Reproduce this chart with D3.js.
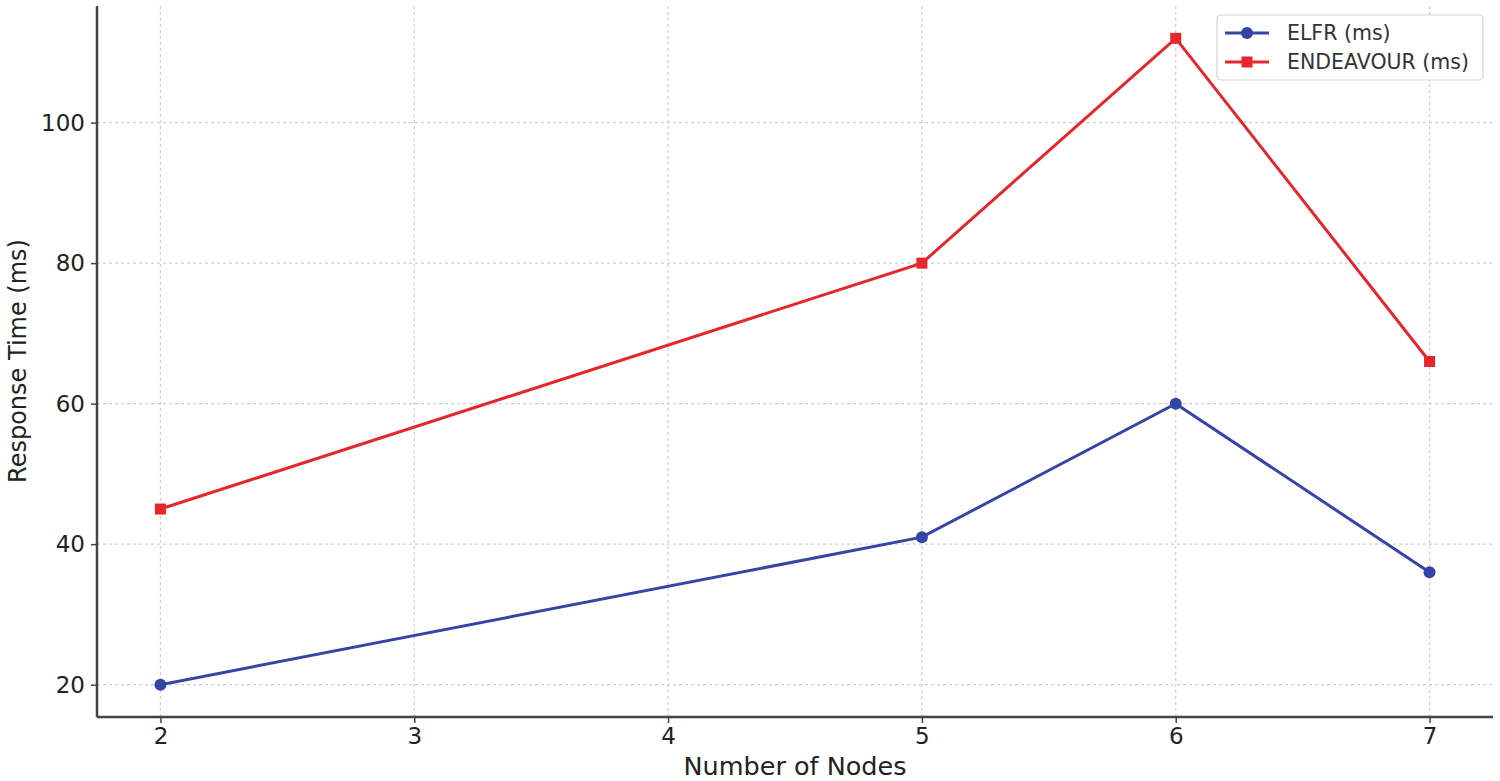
<!DOCTYPE html>
<html><head><meta charset="utf-8">
<script src="https://cdn.jsdelivr.net/npm/d3@7"></script>
<style>body{margin:0;background:#fff;} svg{display:block;} text{font-family:"DejaVu Sans",sans-serif;}</style>
</head><body>
<svg id="c" width="1500" height="781"></svg>
<script>
const nodes = [2, 5, 6, 7];
const elfr = [20, 41, 60, 36];
const endeavour = [45, 80, 112, 66];
const xTicks = [2, 3, 4, 5, 6, 7];
const yTicks = [20, 40, 60, 80, 100];
const seriesNames = ["ELFR (ms)", "ENDEAVOUR (ms)"];
const colors = ["#3545a6", "#e5262b"];

const svg = d3.select("#c");
const L = 97, R = 1493, T = 6, B = 717;
const x = d3.scaleLinear().domain([1.75, 7.25]).range([L, R]);
const y = d3.scaleLinear().domain([15.4, 116.6]).range([B, T]);

// grid
const g = svg.append("g");
g.selectAll(".gx").data(xTicks).join("line")
  .attr("x1", d => x(d)).attr("x2", d => x(d)).attr("y1", T).attr("y2", B)
  .attr("stroke", "#cfcfcf").attr("stroke-width", 1.2).attr("stroke-dasharray", "3,3");
g.selectAll(".gy").data(yTicks).join("line")
  .attr("x1", L).attr("x2", R).attr("y1", d => y(d)).attr("y2", d => y(d))
  .attr("stroke", "#cfcfcf").attr("stroke-width", 1.2).attr("stroke-dasharray", "3,3");

// axes
const xa = svg.append("g").attr("transform", `translate(0,${B})`)
  .call(d3.axisBottom(x).tickValues(xTicks).tickFormat(d3.format("d")).tickSize(6).tickPadding(5));
const ya = svg.append("g").attr("transform", `translate(${L},0)`)
  .call(d3.axisLeft(y).tickValues(yTicks).tickFormat(d3.format("d")).tickSize(6).tickPadding(6));
[xa, ya].forEach(a => {
  a.select(".domain").attr("stroke", "#444").attr("stroke-width", 2.5);
  a.selectAll(".tick line").attr("stroke", "#444").attr("stroke-width", 1.5);
  a.selectAll(".tick text").attr("font-size", 23).attr("fill", "#222").style("font-family", "DejaVu Sans");
});
xa.select(".domain").attr("d", `M${L},0H${R}`);
ya.select(".domain").attr("d", `M0,${T}V${B}`);

// series
const data = [elfr, endeavour];
const line = d3.line().x((d, i) => x(nodes[i])).y(d => y(d));
data.forEach((s, k) => {
  svg.append("path").datum(s).attr("d", line).attr("fill", "none")
    .attr("stroke", colors[k]).attr("stroke-width", 3);
  if (k === 0) {
    svg.selectAll(".m0").data(s).join("circle")
      .attr("cx", (d, i) => x(nodes[i])).attr("cy", d => y(d)).attr("r", 6).attr("fill", colors[k]);
  } else {
    svg.selectAll(".m1").data(s).join("rect")
      .attr("x", (d, i) => x(nodes[i]) - 5.5).attr("y", d => y(d) - 5.5)
      .attr("width", 11).attr("height", 11).attr("fill", colors[k]);
  }
});

// axis labels
svg.append("text").attr("x", 795).attr("y", 775).attr("text-anchor", "middle")
  .attr("font-size", 25.5).attr("fill", "#222").text("Number of Nodes");
svg.append("text").attr("transform", "translate(26,361) rotate(-90)").attr("text-anchor", "middle")
  .attr("font-size", 24).attr("fill", "#222").text("Response Time (ms)");

// legend
const lg = svg.append("g").attr("transform", "translate(1217,15)");
lg.append("rect").attr("width", 266).attr("height", 65).attr("rx", 4)
  .attr("fill", "#fff").attr("stroke", "#d5d5d5").attr("stroke-width", 1.2);
seriesNames.forEach((n, k) => {
  const yy = 18 + k * 29;
  lg.append("line").attr("x1", 8).attr("x2", 52).attr("y1", yy).attr("y2", yy)
    .attr("stroke", colors[k]).attr("stroke-width", 3);
  if (k === 0) lg.append("circle").attr("cx", 30).attr("cy", yy).attr("r", 6).attr("fill", colors[k]);
  else lg.append("rect").attr("x", 24.5).attr("y", yy - 5.5).attr("width", 11).attr("height", 11).attr("fill", colors[k]);
  lg.append("text").attr("x", 70).attr("y", yy + 7).attr("font-size", 20.5).attr("fill", "#333").text(n);
});
</script>
</body></html>
